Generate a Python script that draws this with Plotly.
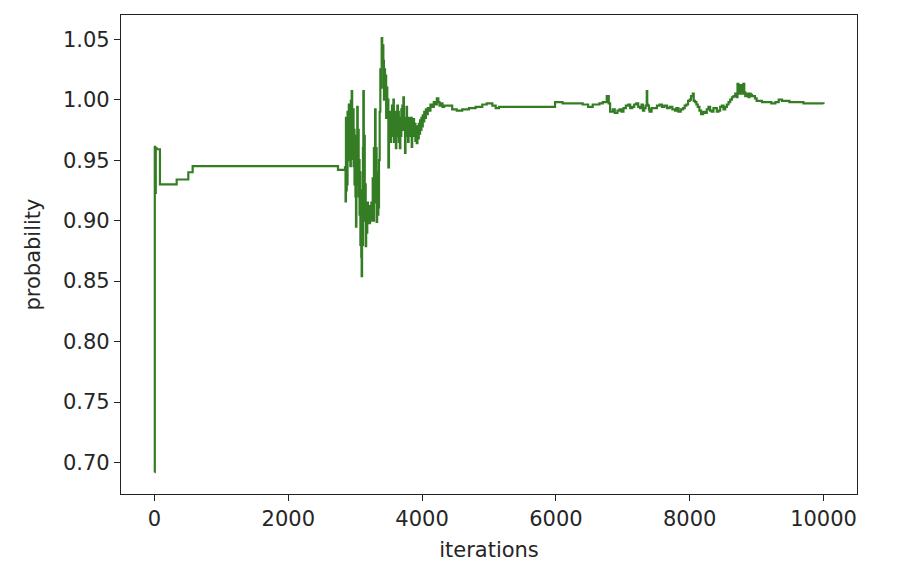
import plotly.graph_objects as go

iterations = [0, 5, 12, 20, 30, 82, 332, 506, 571, 2743, 2848,
              2856, 2862, 2868, 2874, 2880, 2886, 2892, 2898, 2905, 2912, 2920, 2928, 2935, 2942,
              2948, 2955, 2962, 2970, 2976, 2982, 2990, 2996, 3004, 3012, 3018, 3025, 3031, 3038,
              3045, 3052, 3058, 3065, 3072, 3078, 3085, 3091, 3097, 3103, 3109, 3116, 3122, 3129,
              3136, 3143, 3150, 3157, 3164, 3172, 3181, 3190, 3200, 3212, 3222, 3232, 3242, 3252,
              3262, 3272, 3280, 3288, 3297, 3305, 3313, 3320, 3328, 3336, 3346, 3356, 3366, 3376,
              3386, 3396, 3404, 3412, 3421, 3430, 3438, 3446, 3455, 3463, 3472, 3480, 3488, 3496,
              3505, 3512, 3520, 3528, 3535, 3543, 3550, 3558, 3565, 3571, 3578, 3585, 3593, 3600,
              3608, 3615, 3622, 3630, 3638, 3645, 3652, 3660, 3668, 3675, 3683, 3690, 3698, 3705,
              3712, 3720, 3728, 3735, 3745, 3752, 3760, 3768, 3775, 3783, 3790, 3798, 3805, 3813,
              3820, 3832, 3845, 3852, 3860, 3870, 3880, 3890, 3900, 3910, 3920, 3930, 3940, 3950,
              3960, 3970, 3980, 3990, 4000, 4010, 4020, 4032, 4044, 4057, 4070, 4085, 4100, 4125,
              4150, 4175, 4200, 4220, 4243, 4260, 4280, 4305, 4330, 4400, 4450, 4518, 4600, 4700,
              4800, 4900, 4966, 5050, 5100, 5150, 5958,
              5987, 6100, 6250, 6400, 6481, 6550, 6650, 6700, 6760, 6790, 6810, 6850, 6880, 6920,
              6950, 6980, 7010, 7045, 7080, 7110, 7140, 7170, 7200, 7230, 7260, 7280, 7300, 7320,
              7340, 7358, 7365, 7375, 7390, 7400, 7430, 7470, 7510, 7550, 7585, 7620, 7660, 7700,
              7740, 7780, 7800, 7830, 7865, 7900, 7925, 7950, 7975, 8000, 8020, 8046, 8060, 8080,
              8100, 8120, 8145, 8170, 8200, 8230, 8255, 8280, 8305, 8330, 8355, 8380, 8405, 8430,
              8455, 8480, 8505, 8530, 8555, 8580, 8605, 8630, 8655, 8680, 8700, 8714, 8727, 8740,
              8755, 8770, 8785, 8800, 8815, 8830, 8850, 8865, 8880, 8895, 8910, 8930, 8950, 8975,
              9000, 9040, 9080, 9150, 9220, 9280, 9330, 9380, 9430, 9490, 9550, 9620, 9700, 9780,
              9850, 9920, 9999]

probability = [0.692, 0.961, 0.923, 0.960, 0.959, 0.930, 0.934, 0.940, 0.945, 0.942, 0.944,
               0.916, 0.985, 0.925, 0.978, 0.930, 0.990, 0.950, 0.975, 0.996, 0.960, 0.985, 0.945, 0.999, 0.965,
               1.007, 0.970, 0.951, 0.992, 0.945, 0.975, 0.930, 0.970, 0.920, 0.895, 0.960, 0.930, 0.994, 0.945,
               0.975, 0.920, 0.950, 0.905, 0.940, 0.880, 0.925, 0.870, 0.854, 0.905, 0.880, 0.960, 1.007, 0.940,
               0.970, 0.900, 0.930, 0.879, 0.910, 0.890, 0.915, 0.905, 0.909, 0.898, 0.912, 0.900, 0.915, 0.905,
               0.935, 0.900, 0.960, 0.915, 0.992, 0.935, 0.960, 0.899, 0.940, 0.905, 0.911, 0.950, 0.990, 1.025,
               1.010, 1.051, 1.030, 1.045, 1.032, 1.000, 1.025, 1.005, 1.020, 0.985, 1.010, 0.990, 1.000, 0.944,
               0.985, 0.970, 0.990, 0.965, 0.985, 0.975, 0.995, 0.970, 0.990, 1.000, 0.965, 0.985, 0.970, 0.990,
               0.960, 0.985, 0.970, 0.995, 0.975, 0.990, 0.965, 0.985, 0.960, 0.980, 0.970, 0.992, 0.975, 0.995,
               0.980, 1.002, 0.975, 0.985, 0.956, 0.980, 0.970, 0.994, 0.975, 0.985, 0.965, 0.985, 0.970, 0.980,
               0.975, 0.985, 0.961, 0.978, 0.970, 0.984, 0.972, 0.980, 0.966, 0.975, 0.964, 0.978, 0.968, 0.980,
               0.972, 0.983, 0.975, 0.985, 0.978, 0.987, 0.982, 0.990, 0.985, 0.992, 0.988, 0.993, 0.991, 0.996,
               0.994, 0.998, 0.996, 1.001, 0.998, 0.995, 0.997, 0.994, 0.995, 0.995, 0.992, 0.991, 0.992, 0.993,
               0.994, 0.996, 0.997, 0.995, 0.993, 0.994, 0.994,
               0.998, 0.997, 0.997, 0.996, 0.994, 0.996, 0.997, 0.998, 1.003, 0.997, 0.990, 0.992, 0.989, 0.991,
               0.992, 0.990, 0.993, 0.995, 0.996, 0.993, 0.994, 0.996, 0.997, 0.994, 0.993, 0.996, 0.991, 0.993,
               0.995, 1.007, 0.996, 0.995, 0.992, 0.990, 0.993, 0.993, 0.995, 0.996, 0.994, 0.995, 0.993, 0.994,
               0.992, 0.991, 0.993, 0.990, 0.992, 0.993, 0.995, 0.996, 0.999, 1.000, 1.003, 1.005, 0.999, 0.998,
               0.996, 0.994, 0.991, 0.988, 0.990, 0.989, 0.992, 0.994, 0.991, 0.990, 0.993, 0.993, 0.990, 0.991,
               0.994, 0.995, 0.992, 0.994, 0.996, 0.998, 1.000, 1.002, 1.003, 1.005, 1.002, 1.013, 1.006, 1.005,
               1.012, 1.008, 1.005, 1.013, 1.006, 1.003, 1.005, 1.004, 1.002, 1.005, 1.004, 1.003, 1.003, 1.001,
               0.999, 0.999, 0.998, 0.998, 0.997, 0.998, 1.000, 0.999, 0.999, 0.998, 0.998, 0.998, 0.997, 0.997,
               0.997, 0.997, 0.9965]

x_ticks = [0, 2000, 4000, 6000, 8000, 10000]
x_tick_labels = ["0", "2000", "4000", "6000", "8000", "10000"]
y_ticks = [0.70, 0.75, 0.80, 0.85, 0.90, 0.95, 1.00, 1.05]

font = dict(family="DejaVu Sans", size=21, color="#262626")

fig = go.Figure()
fig.add_trace(go.Scatter(
    x=iterations, y=probability, mode="lines",
    line=dict(color="rgb(52,125,36)", width=2.2, shape="hv"),
    showlegend=False,
))

axis_common = dict(
    showline=True, linecolor="#222", linewidth=1.3, mirror=True,
    ticks="outside", ticklen=6, tickcolor="#222", tickwidth=1.3,
    showgrid=False, zeroline=False, automargin=False,
    tickfont=font,
)

fig.update_layout(
    width=894, height=570,
    margin=dict(l=113, r=45, t=7, b=84),
    paper_bgcolor="white", plot_bgcolor="white",
    xaxis=dict(range=[-500, 10500], tickvals=x_ticks, ticktext=x_tick_labels,
               title=dict(text="iterations", font=font, standoff=11),
               **axis_common),
    yaxis=dict(range=[0.674, 1.070], tickvals=y_ticks, tickformat=".2f",
               title=dict(text="probability", font=font, standoff=16),
               **axis_common),
)

fig.write_html("out.html")
